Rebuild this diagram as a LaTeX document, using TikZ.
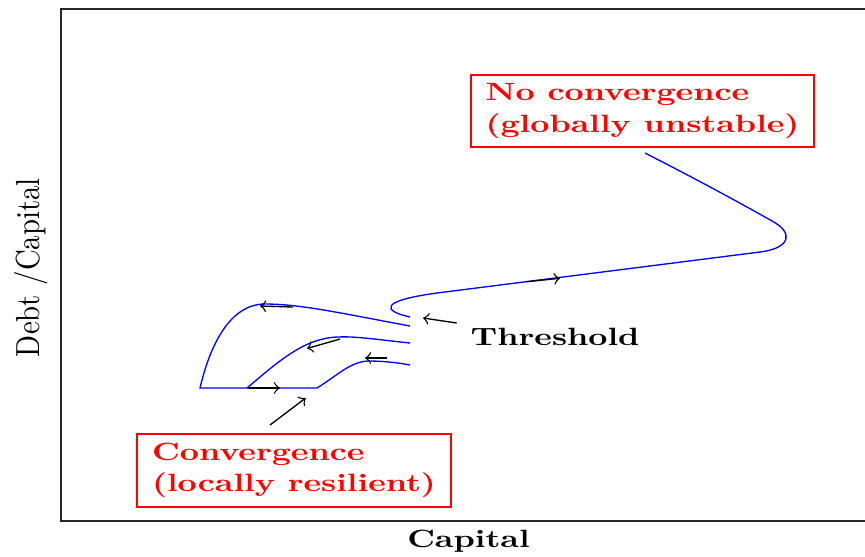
\documentclass[tikz,border=0pt]{standalone}
\usepackage{graphicx}
\newcommand{\vsq}[1]{\scalebox{1}[0.75]{#1}}
\begin{document}
\begin{tikzpicture}[x=0.3pt,y=-0.3pt,
  curve/.style={blue, line width=0.4pt},
  flow/.style={->, black, line width=0.4pt},
  frame/.style={black!85, line width=0.5pt},
  redbox/.style={draw=red, text=red, line width=0.6pt,
    font=\bfseries\fontsize{10}{9.4}\selectfont, align=left,
    inner xsep=4.5pt, inner ysep=2.7pt},
  lbl/.style={font=\bfseries, inner sep=0pt}]
\useasboundingbox (0,0) rectangle (865,556);
% frame
\draw[frame] (865,9) -- (61,9) -- (61,521) -- (865,521);
% axis labels
\node[lbl, anchor=base] (xl) at (468.5,547.5) {\vsq{Capital}};
\node[font=\normalfont, inner sep=0pt, rotate=90, anchor=base] (yl) at (39.5,267.5)
  {\scalebox{0.865}[1]{Debt /Capital}};
% boxes
\node[redbox] (nc) at (642.5,111) {\vsq{No convergence}\\\vsq{(globally unstable)}};
\node[redbox] (cv) at (294,470.5) {\vsq{Convergence}\\\vsq{(locally resilient)}};
\node[lbl, anchor=base west] (th) at (470,345.7) {\vsq{Threshold}};
% curves
\draw[curve] (410,326) .. controls (340,313) and (300,304) .. (265,304)
  .. controls (230,304) and (210,345) .. (200,388) -- (317,388)
  .. controls (338,375) and (350,362) .. (368,361)
  .. controls (385,361) and (400,363) .. (410,365);
\draw[curve] (410,343) .. controls (380,340) and (356,336) .. (338,337)
  .. controls (305,338) and (280,360) .. (247,388);
\draw[curve] (410,317) .. controls (383,311) and (378,301) .. (437,293)
  -- (760,252) .. controls (792,247.9) and (793,232) .. (772,221)
  .. controls (735,200) and (690,176) .. (645,153);
% flow arrows
\coordinate (a1s) at (293,307); \coordinate (a1e) at (260,306);
\coordinate (a2s) at (340,339); \coordinate (a2e) at (307,348.5);
\coordinate (a3s) at (387,358); \coordinate (a3e) at (365,358);
\coordinate (a4s) at (248,388); \coordinate (a4e) at (280,388);
\coordinate (a7s) at (526.7,281.7); \coordinate (a7e) at (560,278.3);
\draw[flow] (a1s) -- (a1e);
\draw[flow] (a2s) -- (a2e);
\draw[flow] (a3s) -- (a3e);
\draw[flow] (a4s) -- (a4e);
\draw[flow] (a7s) -- (a7e);
% pointers
\coordinate (cvp) at (270,425); \coordinate (cvt) at (305.7,398);
\coordinate (thp) at (456.7,323); \coordinate (tht) at (423,318);
\draw[flow] (cvp) -- (cvt);
\draw[flow] (thp) -- (tht);
\end{tikzpicture}
\end{document}
